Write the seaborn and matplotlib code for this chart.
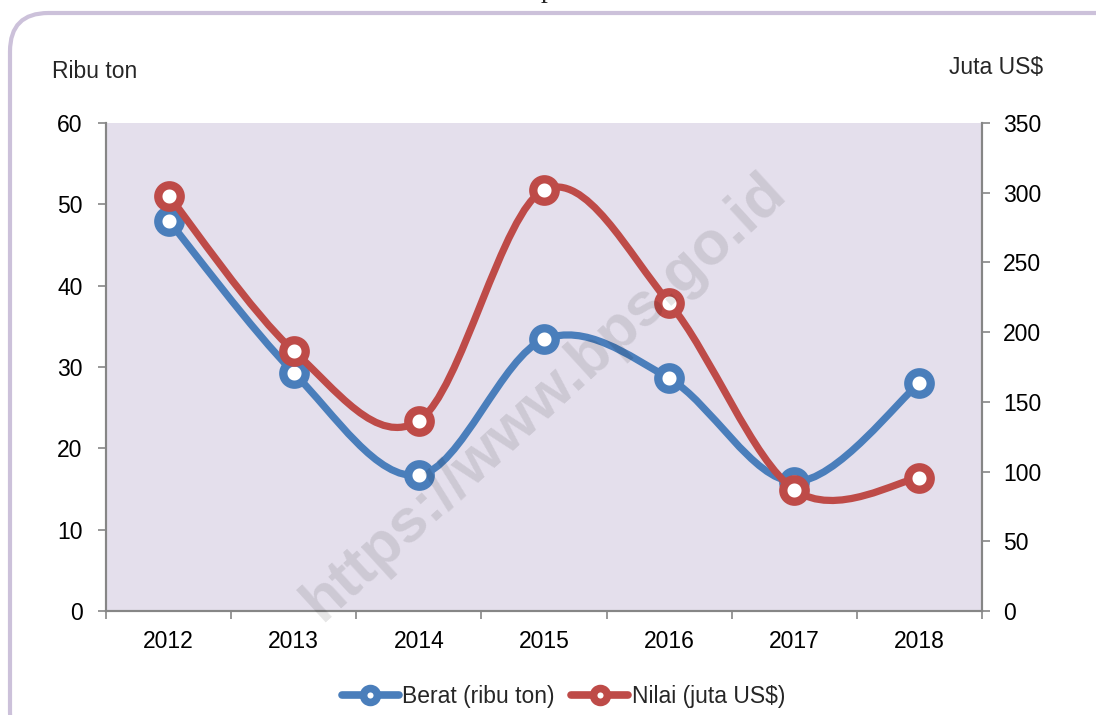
import numpy as np
import seaborn as sns
import matplotlib.pyplot as plt
from matplotlib.path import Path
from matplotlib.patches import PathPatch, FancyBboxPatch
from matplotlib.lines import Line2D

# data
years = ["2012", "2013", "2014", "2015", "2016", "2017", "2018"]
berat = [48.0, 29.3, 16.7, 33.4, 28.6, 15.9, 28.0]        # ribu ton (left axis)
nilai = [298.0, 186.5, 136.5, 302.0, 221.0, 87.0, 95.5]   # juta US$ (right axis)

blue = "#4A7EBB"
red = "#BE4B48"
grid_gray = "#868686"

sns.set_theme(style="white")
plt.rcParams['font.family'] = ['Liberation Sans Narrow', 'Liberation Sans', 'DejaVu Sans']


def smooth_path(xs, ys):
    # Excel-like smoothed line: Catmull-Rom segments as cubic Bezier curves
    pts = np.column_stack([xs, ys]).astype(float)
    n = len(pts)
    verts = [pts[0]]
    codes = [Path.MOVETO]
    for i in range(n - 1):
        p0 = pts[max(i - 1, 0)]
        p1 = pts[i]
        p2 = pts[i + 1]
        p3 = pts[min(i + 2, n - 1)]
        verts += [p1 + (p2 - p0) / 6, p2 - (p3 - p1) / 6, p2]
        codes += [Path.CURVE4] * 3
    return Path(verts, codes)


fig = plt.figure(figsize=(10.96, 7.15), dpi=100)
ax = fig.add_axes([106 / 1096, 1 - 611 / 715, 876 / 1096, 488 / 715])
ax2 = ax.twinx()

x = np.arange(len(years))

ax.set_facecolor("#E4DFEC")
ax2.patch.set_visible(False)

ax.add_patch(PathPatch(smooth_path(x, berat), fill=False, edgecolor=blue,
                       lw=5.2, capstyle='round', joinstyle='round', zorder=2))
sns.scatterplot(x=x, y=berat, ax=ax, s=260, color="white", edgecolor=blue,
                linewidth=6, zorder=3, legend=False)

ax2.add_patch(PathPatch(smooth_path(x, nilai), fill=False, edgecolor=red,
                        lw=5.2, capstyle='round', joinstyle='round', zorder=2))
sns.scatterplot(x=x, y=nilai, ax=ax2, s=260, color="white", edgecolor=red,
                linewidth=6, zorder=3, legend=False)

ax.set_xlim(-0.5, len(years) - 0.5)
ax.set_ylim(0, 60)
ax2.set_ylim(0, 350)
ax.set_yticks(np.arange(0, 61, 10))
ax2.set_yticks(np.arange(0, 351, 50))
ax.set_xticks(x)
ax.set_xticklabels(years)
ax.set_xticks(np.arange(-0.5, len(years), 1), minor=True)

for a in (ax, ax2):
    for s in a.spines.values():
        s.set_color(grid_gray)
        s.set_linewidth(1.5)
    a.spines['top'].set_visible(False)
    a.set_xlabel("")
    a.set_ylabel("")

ax.tick_params(axis='x', which='major', length=0, pad=14, labelsize=16.5, labelcolor="black")
ax.tick_params(axis='x', which='minor', length=6, width=1.2, color=grid_gray, direction='out', bottom=True)
ax.tick_params(axis='y', length=6, width=1.2, color=grid_gray, direction='out', left=True,
               pad=11, labelsize=16.5, labelcolor="black")
ax2.tick_params(axis='y', length=6, width=1.2, color=grid_gray, direction='out', right=True,
                pad=9, labelsize=16.5, labelcolor="black")

fig.text(52 / 1096, 1 - 72 / 715, "Ribu ton", fontsize=16.5, va='center', ha='left')
fig.text(1043 / 1096, 1 - 68 / 715, "Juta US$", fontsize=16.5, va='center', ha='right')

# legend at the bottom
handles = [
    Line2D([], [], color=blue, lw=5.5, marker='o', ms=10, mfc='white', mec=blue, mew=5.5),
    Line2D([], [], color=red, lw=5.5, marker='o', ms=10, mfc='white', mec=red, mew=5.5),
]
fig.legend(handles, ["Berat (ribu ton)", "Nilai (juta US$)"], loc='center',
           bbox_to_anchor=(0.514, 1 - 697 / 715), ncol=2, frameon=False, fontsize=16.5,
           handlelength=2.5, handletextpad=0.15, columnspacing=0.7)

# rounded frame around the chart
fig.patches.append(FancyBboxPatch((10 / 1096, -0.05), 1.2, 1 - 13 / 715 + 0.05,
                                  boxstyle="round,pad=0,rounding_size=0.035",
                                  transform=fig.transFigure, fill=False,
                                  edgecolor="#CCC1DA", lw=3, mutation_aspect=1096 / 715))

# cut-off heading on top
fig.text(548 / 1096, 1 + 3 / 715, "p", fontsize=20, family='Liberation Serif',
         ha='center', va='baseline')

# watermark
fig.text(545 / 1096, 1 - 397 / 715, "https://www.bps.go.id", fontsize=44,
         fontweight='bold', family=['Liberation Sans', 'DejaVu Sans'],
         color="black", alpha=0.1, rotation=42.5, ha='center', va='center', zorder=10)

fig.savefig("out.png", dpi=100)
